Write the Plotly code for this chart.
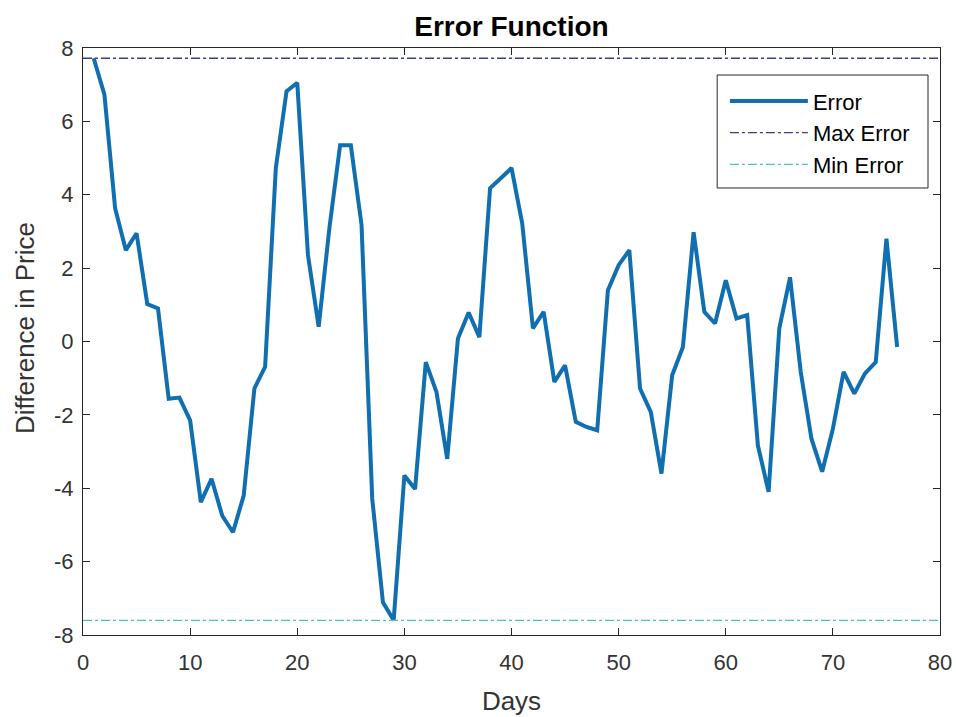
import plotly.graph_objects as go

# Daily difference between predicted and actual price
days = list(range(1, 77))
error = [
    7.72, 6.73, 3.63, 2.49, 2.95, 1.02, 0.90, -1.56, -1.53, -2.15,
    -4.38, -3.74, -4.75, -5.20, -4.20, -1.28, -0.69, 4.73, 6.82, 7.05,
    2.36, 0.40, 3.09, 5.35, 5.35, 3.18, -4.29, -7.11, -7.60, -3.65,
    -4.02, -0.56, -1.38, -3.20, 0.08, 0.79, 0.12, 4.18, 4.45, 4.73,
    3.22, 0.36, 0.81, -1.10, -0.65, -2.19, -2.33, -2.42, 1.40, 2.08,
    2.49, -1.28, -1.92, -3.60, -0.92, -0.15, 2.98, 0.81, 0.49, 1.67,
    0.63, 0.72, -2.83, -4.10, 0.36, 1.75, -0.83, -2.65, -3.55, -2.38,
    -0.83, -1.42, -0.87, -0.56, 2.80, -0.15,
]
max_error = 7.72
min_error = -7.60

x_ticks = [0, 10, 20, 30, 40, 50, 60, 70, 80]
y_ticks = [-8, -6, -4, -2, 0, 2, 4, 6, 8]
y_tick_text = [str(v) for v in y_ticks]

font_family = "Liberation Sans, Arial, sans-serif"
axis_color = "#262626"
text_color = "#333333"

fig = go.Figure()
fig.add_trace(go.Scatter(
    x=days, y=error, mode="lines", name="Error",
    line=dict(color="#0F6FB0", width=4),
))
fig.add_trace(go.Scatter(
    x=[0, 80], y=[max_error, max_error], mode="lines", name="Max Error",
    line=dict(color="#3A3F86", width=1.3, dash="dashdot"),
))
fig.add_trace(go.Scatter(
    x=[0, 80], y=[min_error, min_error], mode="lines", name="Min Error",
    line=dict(color="#4CC3BE", width=1.3, dash="dashdot"),
))

axis_common = dict(
    showgrid=False, zeroline=False, showline=True, linecolor=axis_color,
    linewidth=1, mirror="allticks", ticks="inside", ticklen=7,
    tickcolor=axis_color, tickwidth=1, automargin=False,
    tickfont=dict(family=font_family, size=22, color=text_color),
)

fig.update_layout(
    width=956, height=717,
    margin=dict(l=83, r=16, t=48, b=82),
    paper_bgcolor="white", plot_bgcolor="white",
    font=dict(family=font_family, color=axis_color),
    title=dict(text="<b>Error Function</b>", x=0.535, xanchor="center",
               y=0.964, yanchor="middle",
               font=dict(family=font_family, size=28, color="black")),
    xaxis=dict(range=[0, 80], tickvals=x_ticks, ticklabelstandoff=8,
               title=dict(text="Days", standoff=17,
                          font=dict(family=font_family, size=26, color=text_color)),
               **axis_common),
    yaxis=dict(range=[-8, 8], tickvals=y_ticks, ticktext=y_tick_text,
               ticklabelstandoff=4, **axis_common),
    # y-axis caption, placed slightly above the axis midpoint
    annotations=[dict(text="Difference in Price", textangle=-90,
                      xref="paper", yref="paper", x=-0.0677, y=0.523,
                      xanchor="center", yanchor="middle", showarrow=False,
                      font=dict(family=font_family, size=26, color=text_color))],
    # legend frame drawn as a shape so its padding can be set freely
    shapes=[dict(type="rect", xref="paper", yref="paper",
                 x0=0.740, x1=0.986, y0=0.7615, y1=0.954,
                 fillcolor="white", line=dict(color=axis_color, width=1),
                 layer="below")],
    legend=dict(x=0.749, y=0.945, xanchor="left", yanchor="top",
                bgcolor="rgba(0,0,0,0)", borderwidth=0,
                font=dict(family=font_family, size=22, color="black"),
                tracegroupgap=0, itemwidth=78),
    showlegend=True,
)

fig.write_html("out.html")
